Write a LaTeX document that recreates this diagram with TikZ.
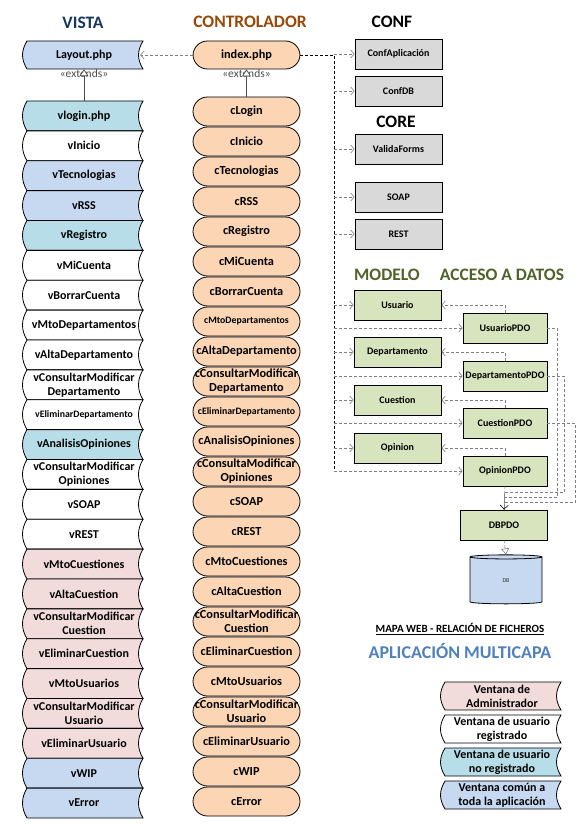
\documentclass[tikz,border=0pt]{standalone}
\usepackage{fontspec}
\setmainfont{Carlito}
\usepackage{xcolor}
\usepackage{tikz}
\usetikzlibrary{shapes.geometric, arrows.meta, calc}

\definecolor{azulcomun}{HTML}{C6D9F1}
\definecolor{turquesa}{HTML}{B7DEE8}
\definecolor{rosaadmin}{HTML}{F2DCDB}
\definecolor{melocoton}{HTML}{FCD5B5}
\definecolor{grisconf}{HTML}{D9D9D9}
\definecolor{verdemodelo}{HTML}{D7E4BD}
\definecolor{titvista}{HTML}{17375E}
\definecolor{titcontrol}{HTML}{984807}
\definecolor{titmodelo}{HTML}{4F6228}
\definecolor{titapp}{HTML}{4F81BD}

\newcommand{\letraCaja}{\fontsize{12}{14}\selectfont\bfseries}
\newcommand{\letraPeq}{\fontsize{9.8}{11}\selectfont\bfseries}
% contorno de ventana: x izq, x der, arriba, abajo, relleno
\newcommand{\ventana}[5]{%
  \draw[line width=0.8pt, fill=#5] (#1,#3) .. controls (#1-6,#3+10) and (#1-6,#4-10) .. (#1,#4)
    -- (#2,#4) .. controls (#2-6,#4-10) and (#2-6,#3+10) .. (#2,#3) -- cycle;}

\begin{document}
\begin{tikzpicture}[x=1pt, y=-1pt,
  vista/.style={minimum width=112pt, minimum height=29.8pt, inner sep=0pt, align=center, font=\letraCaja},
  control/.style={draw, line width=0.8pt, fill=melocoton, rounded corners=14.5pt, minimum width=107pt,
    minimum height=29pt, inner sep=0pt, align=center, font=\fontsize{12.3}{14}\selectfont\bfseries},
  caja/.style={draw, line width=0.8pt, fill=#1, minimum width=87pt, minimum height=30pt, inner sep=0pt,
    font=\fontsize{10}{11}\selectfont\bfseries},
  titulo/.style={font=\fontsize{17.5}{20}\selectfont\bfseries},
  gris/.style={gray, line width=0.6pt, dash pattern=on 3pt off 2pt},
  dep/.style={gris, -{Straight Barb[length=3.5pt,width=8pt]}},
  hereda/.style={black!70, line width=0.7pt, -{Triangle[length=7pt,width=9pt,fill=white]}},
  etiq/.style={font=\fontsize{11.5}{12}\selectfont, text=black!70},
]
\useasboundingbox (0,0) rectangle (579,824);

% Titulos
\node[titulo, text=titvista] (tvista) at (83,23) {VISTA};
\node[titulo, text=titcontrol] (tcontrol) at (250,22) {CONTROLADOR};
\node[titulo] (tconf) at (392,22) {CONF};
\node[titulo] (tcore) at (396,122) {CORE};
\node[titulo, text=titmodelo] (tmodelo) at (387,275) {MODELO};
\node[titulo, text=titmodelo] (tacceso) at (502,275) {ACCESO A DATOS};

% Layout e index
\ventana{27}{143}{41}{69}{azulcomun}
\node[vista, minimum height=28pt] (layout) at (84,55) {Layout.php};
\node[control, minimum height=28pt] (index) at (246.5,55) {index.php};

% Vistas
\foreach \texto/\relleno [count=\i] in {
    vlogin.php/turquesa, vInicio/white, vTecnologias/azulcomun, vRSS/azulcomun,
    vRegistro/turquesa, vMiCuenta/white, vBorrarCuenta/white, vMtoDepartamentos/white,
    vAltaDepartamento/white, vConsultarModificar\\Departamento/white,
    \letraPeq vEliminarDepartamento/white, vAnalisisOpiniones/turquesa,
    vConsultarModificar\\Opiniones/white, vSOAP/white, vREST/white,
    vMtoCuestiones/rosaadmin, vAltaCuestion/rosaadmin, vConsultarModificar\\Cuestion/rosaadmin,
    vEliminarCuestion/rosaadmin, vMtoUsuarios/rosaadmin, vConsultarModificar\\Usuario/rosaadmin,
    vEliminarUsuario/rosaadmin, vWIP/azulcomun, vError/azulcomun} {
    \pgfmathsetmacro\arriba{101+29.875*(\i-1)}
    \pgfmathsetmacro\abajo{\arriba+29.875}
    \ventana{27}{143}{\arriba}{\abajo}{\relleno}
    \node[vista] (v\i) at (84,{(\arriba+\abajo)/2}) {\texto};
}

% Controladores
\foreach \texto [count=\i] in {
    cLogin, cInicio, cTecnologias, cRSS, cRegistro, cMiCuenta, cBorrarCuenta,
    \letraPeq cMtoDepartamentos, cAltaDepartamento, cConsultarModificar\\Departamento,
    \letraPeq cEliminarDepartamento, cAnalisisOpiniones, cConsultaModificar\\Opiniones,
    cSOAP, cREST, cMtoCuestiones, cAltaCuestion, cConsultarModificar\\Cuestion,
    cEliminarCuestion, cMtoUsuarios, cConsultarModificar\\Usuario, cEliminarUsuario,
    cWIP, cError} {
    \node[control] (c\i) at (246.5,{96.5+30*(\i-0.5)}) {\texto};
}

% extends
\node[etiq] (ext1) at (84,74) {«extends»};
\node[etiq] (ext2) at (246.5,74) {«extends»};
\draw[hereda] (v1.north) -- (layout.south);
\draw[hereda] (c1.north) -- (index.south);
\draw[dep] (index.west) -- (layout.east);

% CONF y CORE
\node[caja=grisconf] (confapp) at (398.5,54) {ConfAplicación};
\node[caja=grisconf] (confdb) at (398.5,91) {ConfDB};
\node[caja=grisconf] (valida) at (398.5,149) {ValidaForms};
\node[caja=grisconf] (soap) at (398.5,197) {SOAP};
\node[caja=grisconf] (rest) at (398.5,234) {REST};

% Modelo y acceso a datos
\node[caja=verdemodelo] (usuario) at (397.5,305) {Usuario};
\node[caja=verdemodelo] (departamento) at (397.5,352) {Departamento};
\node[caja=verdemodelo] (cuestion) at (397.5,400) {Cuestion};
\node[caja=verdemodelo] (opinion) at (397.5,448) {Opinion};
\node[caja=verdemodelo, minimum width=84pt] (upd) at (505,328) {UsuarioPDO};
\node[caja=verdemodelo, minimum width=84pt] (dpd) at (505,376) {DepartamentoPDO};
\node[caja=verdemodelo, minimum width=84pt] (cpd) at (505,423) {CuestionPDO};
\node[caja=verdemodelo, minimum width=84pt] (opd) at (505,471) {OpinionPDO};
\node[caja=verdemodelo] (dbpdo) at (504,525) {DBPDO};
\node[cylinder, shape border rotate=90, draw, line width=0.8pt, fill=azulcomun, aspect=0.3,
  minimum width=72pt, minimum height=49pt, font=\fontsize{6}{7}\selectfont, text=black!80] (db) at (506,581) {DB};

% Tronco desde index.php
\coordinate (tronco) at (334,55);
\draw[line width=0.9pt, dash pattern=on 3pt off 2pt] (index.east) -- (tronco) -- (tronco |- opd);
\foreach \destino in {confapp, confdb, valida, soap, rest, usuario, departamento, cuestion, opinion, upd, dpd, cpd, opd}
    \draw[dep] (tronco |- \destino) -- (\destino.west);

% PDO -> modelo
\draw[dep] (upd.north) |- (usuario.east);
\draw[dep] (dpd.north) |- (departamento.east);
\draw[dep] (cpd.north) |- (cuestion.east);
\draw[dep] (opd.north) |- (opinion.east);

% PDO -> DBPDO
\draw[gris] (upd.east) -- ++(10,0) |- ($(dbpdo.north)+(0,-12)$) -- (dbpdo.north);
\draw[gris] (dpd.east) -- ++(17,0) |- ($(dbpdo.north)+(0,-17)$) -- (dbpdo.north);
\draw[gris] (cpd.east) -- ++(28,0) |- ($(dbpdo.north)+(0,-7)$) -- (dbpdo.north);
\draw[gris, -{Straight Barb[length=4pt,width=8pt,black]}] (opd.south) -- (dbpdo.north);
\draw[gris, -{Triangle[open,length=6pt,width=8pt]}] (dbpdo.south) -- (db.north);

% Leyenda
\node[font=\fontsize{11}{12}\selectfont\bfseries] (tmapa) at (460,629) {\underline{MAPA WEB - RELACIÓN DE FICHEROS}};
\node[titulo, font=\fontsize{18}{20}\selectfont\bfseries, text=titapp] (tapp) at (460,651) {APLICACIÓN MULTICAPA};
\foreach \texto/\relleno [count=\i] in {
    Ventana de\\Administrador/rosaadmin, Ventana de usuario\\registrado/white,
    Ventana de usuario\\no registrado/turquesa, Ventana común a\\toda la aplicación/azulcomun} {
    \pgfmathsetmacro\arriba{682+33*(\i-1)}
    \ventana{445}{561}{\arriba}{\arriba+28}{\relleno}
    \node[vista, minimum width=110pt, minimum height=28pt] (ley\i) at (502,\arriba+14) {\texto};
}
\end{tikzpicture}
\end{document}
